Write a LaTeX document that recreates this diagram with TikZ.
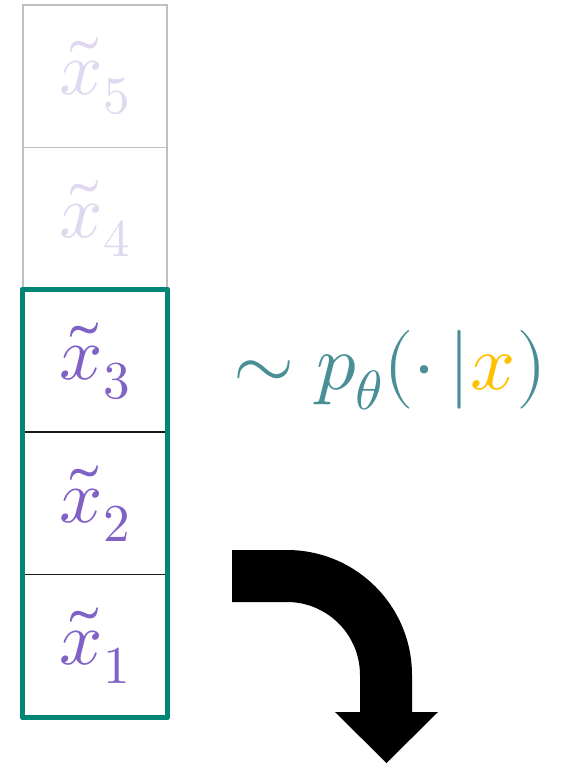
\documentclass[tikz,border=0pt]{standalone}
\usepackage{unicode-math}
\setmathfont{Latin Modern Math}
\definecolor{grn}{RGB}{0,133,118}
\definecolor{purp}{RGB}{128,98,198}
\definecolor{lpurp}{RGB}{224,216,240}
\definecolor{teal2}{RGB}{74,143,150}
\definecolor{orng}{RGB}{255,192,0}
\definecolor{gry}{RGB}{191,191,191}
\begin{document}
\begin{tikzpicture}[x=1pt,y=-1pt,
  cell/.style={draw, line width=1.5pt, minimum width=144pt, minimum height=142.4pt, inner sep=0pt, font=\fontsize{76}{80}\selectfont},
  faded/.style={cell, draw=gry, text=lpurp},
  active/.style={cell, draw=black!90, text=purp},
  frame/.style={draw=grn, line width=5pt, line join=round},
  curvearrow/.style={fill=black, draw=none}]
\useasboundingbox (0,0) rectangle (571,764);
\node[faded]  (c5) at (95,76.2)  {$\tilde{x}_5$};
\node[faded]  (c4) at (95,218.6) {$\tilde{x}_4$};
\node[active] (c3) at (95,361)   {$\tilde{x}_3$};
\node[active] (c2) at (95,503.4) {$\tilde{x}_2$};
\node[active] (c1) at (95,645.8) {$\tilde{x}_1$};
\draw[frame] (c3.north west) rectangle (c1.south east);
\node[text=teal2, font=\fontsize{79}{84}\selectfont] (dist) at (390,370)
  {$\sim p_{\theta}(\cdot\,|\textcolor{orng}{x})$};
\fill[curvearrow] (232,550) -- (287,550) arc[start angle=90, end angle=0, radius=125pt]
  -- (412,712) -- (438,712) -- (386.5,763) -- (335,712) -- (360,712)
  -- (360,675) arc[start angle=0, end angle=90, radius=73pt] -- (232,602) -- cycle;
\end{tikzpicture}
\end{document}
